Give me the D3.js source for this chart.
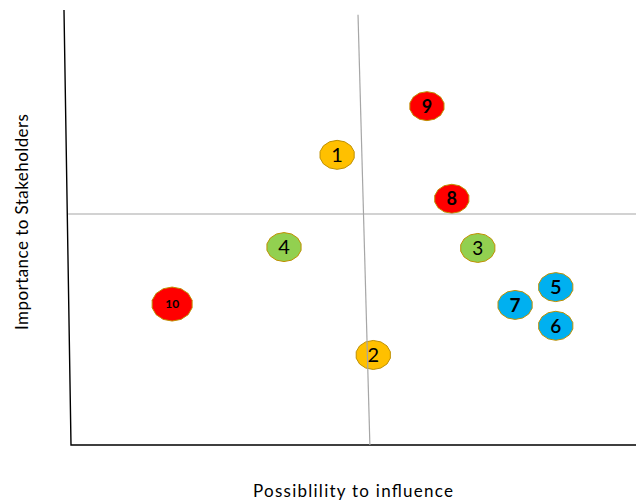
<!DOCTYPE html>
<html>
<head>
<meta charset="utf-8">
<script src="https://cdn.jsdelivr.net/npm/d3@7"></script>
<style>
  body { margin: 0; background: #fff; }
  text { font-family: Lato, "Open Sans", sans-serif; }
</style>
</head>
<body>
<main></main>
<script>
// stakeholder ids and their position on the grid (0..10 both ways)
const ids = ['1', '2', '3', '4', '5', '6', '7', '8', '9', '10'];
const influence = [4.71, 5.35, 7.20, 3.77, 8.58, 8.58, 7.86, 6.74, 6.30, 1.79];
const importance = [6.67, 2.07, 4.53, 4.55, 3.63, 2.74, 3.22, 5.66, 7.79, 3.24];
const groups = ['amber', 'amber', 'green', 'green', 'blue', 'blue', 'blue', 'red', 'red', 'red'];

const x_title = 'Possiblility to influence';
const y_title = 'Importance to Stakeholders';

const width = 636;
const height = 500;

const fills = { red: '#FF0000', amber: '#FFC000', green: '#92D050', blue: '#00B0F0' };
// label font per id (size, weight)
const label_font = {
  '1': [20, 400], '2': [20, 400], '3': [19, 400], '4': [20, 400],
  '5': [20, 600], '6': [19, 600], '7': [19, 700], '8': [18, 700],
  '9': [18, 700], '10': [12, 700]
};

let svg = d3.select('main')
  .append('svg')
  .attr('width', width)
  .attr('height', height);

const x = d3.scaleLinear().domain([0, 10]).range([71, 636]);
const y = d3.scaleLinear().domain([0, 10]).range([445, 10]);

const line = d3.line()
  .x(function (d) { return x(d[0]); })
  .y(function (d) { return y(d[1]); });

// axes (drawn a little skewed, like the original sketch)
svg.append('path')
  .attr('d', line([[-0.124, 10], [0, 0], [10, 0]]))
  .attr('fill', 'none')
  .attr('stroke', '#000')
  .attr('stroke-width', 1.4);

const data = ids.map(function (d, i) {
  return { id: d, x: influence[i], y: importance[i], g: groups[i] };
});

// bubble shape: a slightly flattened 14-gon
function bubble(rx, ry) {
  const n = 14;
  let pts = [];
  for (let k = 0; k < n; k++) {
    const a = (k + 0.5) * 2 * Math.PI / n;
    pts.push([rx * Math.cos(a), ry * Math.sin(a)]);
  }
  return 'M' + pts.join('L') + 'Z';
}

let g = svg.selectAll('g.stake')
  .data(data)
  .enter()
  .append('g')
  .attr('class', 'stake')
  .attr('transform', function (d) {
    return 'translate(' + x(d.x) + ',' + y(d.y) + ')';
  });

g.append('path')
  .attr('d', function (d) {
    return d.id === '10' ? bubble(20.5, 17) : bubble(17.5, 14.5);
  })
  .attr('fill', function (d) { return fills[d.g]; })
  .attr('stroke', '#BF9000')
  .attr('stroke-width', 1);

g.append('text')
  .attr('text-anchor', 'middle')
  .attr('dy', '0.36em')
  .style('font-size', function (d) { return label_font[d.id][0] + 'px'; })
  .style('font-weight', function (d) { return label_font[d.id][1]; })
  .attr('fill', '#000')
  .text(function (d) { return d.id; });

// quadrant dividers, on top of the bubbles
svg.append('path')
  .attr('d', line([[5.08, 9.89], [5.29, 0]]))
  .attr('stroke', '#A6A6A6')
  .attr('stroke-width', 1.2);

svg.append('path')
  .attr('d', line([[-0.05, 5.31], [10, 5.31]]))
  .attr('stroke', '#A6A6A6')
  .attr('stroke-width', 1.2);

// axis titles
svg.append('text')
  .attr('x', 353)
  .attr('y', 497)
  .attr('text-anchor', 'middle')
  .style('font-size', '17px')
  .attr('textLength', 200)
  .attr('fill', '#000')
  .text(x_title);

svg.append('text')
  .attr('transform', 'translate(28,222) rotate(-90)')
  .attr('text-anchor', 'middle')
  .style('font-size', '17px')
  .attr('textLength', 216)
  .attr('fill', '#000')
  .text(y_title);
</script>
</body>
</html>
